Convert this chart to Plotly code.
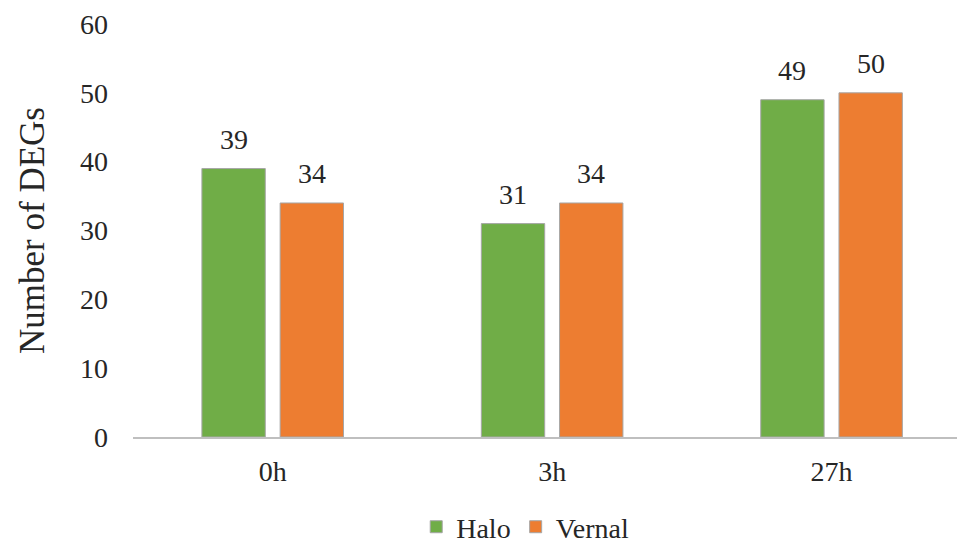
import plotly.graph_objects as go

# Differentially expressed gene counts per time point
time_points = ["0h", "3h", "27h"]
halo_counts = [39, 31, 49]
vernal_counts = [34, 34, 50]

FONT = "Liberation Serif"
TEXT_COLOR = "#262626"
BARGAP = 0.44
PX_PER_CATEGORY = 279.5
# horizontal offset of each bar centre from its category centre, in pixels
HALF_SLOT = PX_PER_CATEGORY * (1 - BARGAP) / 4

fig = go.Figure()
fig.add_trace(go.Bar(
    name="Halo", x=time_points, y=halo_counts,
    marker=dict(color="#70AD47", line=dict(color="#a6a6a6", width=1)),
))
fig.add_trace(go.Bar(
    name="Vernal", x=time_points, y=vernal_counts,
    marker=dict(color="#ED7D31", line=dict(color="#a6a6a6", width=1)),
))

# value labels above each bar
for values, shift in ((halo_counts, -HALF_SLOT), (vernal_counts, HALF_SLOT)):
    for cat, v in zip(time_points, values):
        fig.add_annotation(
            x=cat, y=v, xref="x", yref="y", text=str(v), showarrow=False,
            xshift=shift, yshift=12, yanchor="bottom",
            font=dict(family="serif", size=28, color=TEXT_COLOR),
        )

fig.update_layout(
    width=957, height=544,
    margin=dict(l=133, r=0, t=24, b=107, autoexpand=False),
    paper_bgcolor="white", plot_bgcolor="white",
    barmode="group", bargap=BARGAP, bargroupgap=0.19,
    font=dict(family=FONT, size=28, color=TEXT_COLOR),
    showlegend=True,
    legend=dict(
        orientation="h", x=0.476, xanchor="center",
        y=-0.218, yanchor="middle",
        font=dict(family="serif", size=28, color=TEXT_COLOR),
    ),
    xaxis=dict(
        range=[-0.5, 2.449], showline=True, linecolor="#bfbfbf", linewidth=2,
        showgrid=False, ticks="", ticklabelstandoff=8,
        tickfont=dict(family=FONT, size=28, color=TEXT_COLOR),
    ),
    yaxis=dict(
        range=[0, 60], dtick=10, showgrid=False, zeroline=False,
        showline=False, ticks="", ticklabelstandoff=24,
        tickfont=dict(family=FONT, size=28, color=TEXT_COLOR),
        title=dict(text="Number of DEGs", standoff=24,
                   font=dict(family=FONT, size=35, color=TEXT_COLOR)),
    ),
)

fig.write_html("out.html")
